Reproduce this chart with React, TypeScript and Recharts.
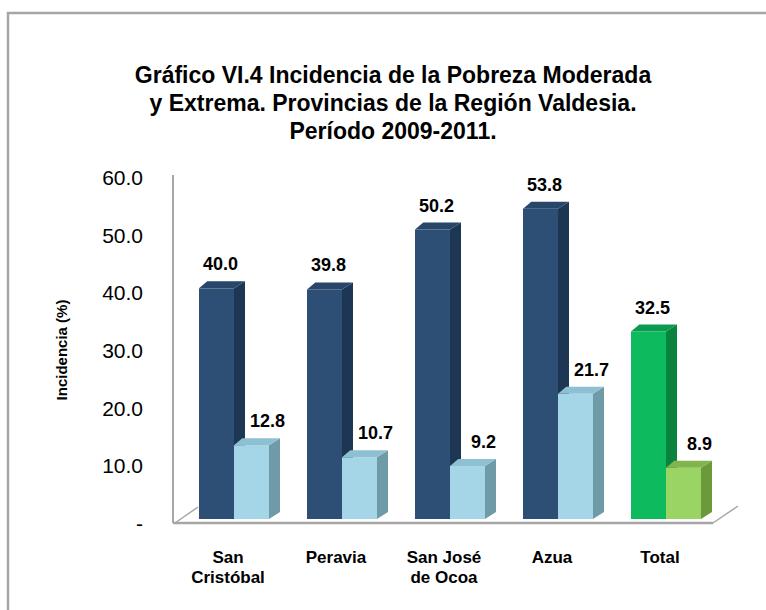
import React from "react";
import { BarChart, Bar, XAxis, YAxis, LabelList } from "recharts";

const categories = ["San\nCristóbal", "Peravia", "San José\nde Ocoa", "Azua", "Total"];
const moderada = [40.0, 39.8, 50.2, 53.8, 32.5];
const extrema = [12.8, 10.7, 9.2, 21.7, 8.9];
const yTicks = [0, 10, 20, 30, 40, 50, 60];
const titleLines = [
  "Gráfico VI.4 Incidencia de la Pobreza Moderada",
  "y Extrema. Provincias de la Región Valdesia.",
  "Período 2009-2011.",
];

const W = 766;
const H = 610;
const PLOT_LEFT = 180;
const PLOT_RIGHT = 720;
const PLOT_TOP = 173;
const PLOT_BOTTOM = 519;
const YAXIS_W = 80;
const XAXIS_H = 60;
const DX = 11;
const DY = 7;
const FONT = "'Liberation Sans', Arial, sans-serif";

const data = categories.map((name, i) => ({
  name,
  moderada: moderada[i],
  extrema: extrema[i],
  total: name === "Total",
}));

const palettes = {
  moderada: { front: "#2d4f75", top: "#27466a", side: "#1d3654" },
  extrema: { front: "#a5d6e7", top: "#8cc0d2", side: "#6f9aa8" },
  moderadaTotal: { front: "#0dba5e", top: "#0a9c4e", side: "#08843f" },
  extremaTotal: { front: "#9ad464", top: "#80b54d", side: "#6b9a3b" },
};

function make3D(key: "moderada" | "extrema") {
  return (props: any) => {
    const { x, y, width, height, payload } = props;
    const p = payload && payload.total ? palettes[(key + "Total") as "moderadaTotal"] : palettes[key];
    return (
      <g>
        <rect x={x} y={y} width={width} height={height} fill={p.front} />
        <polygon
          points={`${x + width},${y} ${x + width + DX},${y - DY} ${x + width + DX},${y + height - DY} ${x + width},${y + height}`}
          fill={p.side}
        />
        <polygon
          points={`${x},${y} ${x + DX * 0.75},${y - DY} ${x + width + DX},${y - DY} ${x + width},${y}`}
          fill={p.top}
        />
      </g>
    );
  };
}

function valueLabel(shift: number) {
  return (props: any) => {
    const { x, y, width, value } = props;
    return (
      <text
        x={x + width / 2 + shift}
        y={y - 18}
        textAnchor="middle"
        fontFamily={FONT}
        fontWeight="bold"
        fontSize={18}
        fill="#000"
      >
        {Number(value).toFixed(1)}
      </text>
    );
  };
}

function YTick(props: any) {
  const { y, payload } = props;
  const v = payload.value;
  return (
    <text
      x={PLOT_LEFT - 37}
      y={y}
      dy={12}
      textAnchor="end"
      fontFamily={FONT}
      fontSize={21}
      fill="#000"
    >
      {v === 0 ? "-" : v.toFixed(1)}
    </text>
  );
}

function XTick(props: any) {
  const { x, payload } = props;
  const lines = String(payload.value).split("\n");
  return (
    <text textAnchor="middle" fontFamily={FONT} fontWeight="bold" fontSize={17} fill="#000">
      {lines.map((l, i) => (
        <tspan key={i} x={x - 6} y={563 + i * 20}>
          {l}
        </tspan>
      ))}
    </text>
  );
}

export default function App() {
  return (
    <div style={{ position: "absolute", left: 0, top: 0, width: W, height: H, background: "#fff" }}>
      <svg width={W} height={H} style={{ position: "absolute", left: 0, top: 0 }}>
        <rect x={8} y={13} width={W + 20} height={H + 20} fill="none" stroke="#a6a6a6" strokeWidth={2.5} />
        {titleLines.map((t, i) => (
          <text
            key={i}
            x={393}
            y={83 + i * 28}
            textAnchor="middle"
            fontFamily={FONT}
            fontWeight="bold"
            fontSize={23}
            fill="#000"
          >
            {t}
          </text>
        ))}
        <text
          transform={`translate(67,350) rotate(-90)`}
          textAnchor="middle"
          fontFamily={FONT}
          fontWeight="bold"
          fontSize={15}
          fill="#000"
        >
          Incidencia (%)
        </text>
        {/* back wall + floor */}
        <line x1={PLOT_LEFT - 7} y1={175} x2={PLOT_LEFT - 7} y2={PLOT_BOTTOM + 4} stroke="#a6a6a6" strokeWidth={2} />
        <line x1={PLOT_LEFT - 7} y1={PLOT_BOTTOM + 4} x2={PLOT_RIGHT - 7} y2={PLOT_BOTTOM + 4} stroke="#a6a6a6" strokeWidth={2.5} />
        <line x1={PLOT_LEFT - 5} y1={PLOT_BOTTOM + 4} x2={PLOT_LEFT + 18} y2={PLOT_BOTTOM - 12} stroke="#a6a6a6" strokeWidth={1.5} />
        <line x1={PLOT_RIGHT - 7} y1={PLOT_BOTTOM + 4} x2={PLOT_RIGHT + 18} y2={PLOT_BOTTOM - 13} stroke="#a6a6a6" strokeWidth={1.5} />
      </svg>
      <div style={{ position: "absolute", left: 0, top: 0 }}>
        <BarChart
          width={W}
          height={H}
          data={data}
          barGap={0}
          margin={{
            top: PLOT_TOP,
            right: W - PLOT_RIGHT,
            left: PLOT_LEFT - YAXIS_W,
            bottom: H - PLOT_BOTTOM - XAXIS_H,
          }}
        >
          <XAxis dataKey="name" height={XAXIS_H} axisLine={false} tickLine={false} tick={<XTick />} interval={0} />
          <YAxis
            width={YAXIS_W}
            domain={[0, 60]}
            ticks={yTicks}
            axisLine={false}
            tickLine={false}
            tick={<YTick />}
            interval={0}
          />
          <Bar dataKey="moderada" name="Pobreza Moderada" barSize={35} shape={make3D("moderada")} isAnimationActive={false}>
            <LabelList dataKey="moderada" content={valueLabel(4)} />
          </Bar>
          <Bar dataKey="extrema" name="Pobreza Extrema" barSize={35} shape={make3D("extrema")} isAnimationActive={false}>
            <LabelList dataKey="extrema" content={valueLabel(16)} />
          </Bar>
        </BarChart>
      </div>
    </div>
  );
}
